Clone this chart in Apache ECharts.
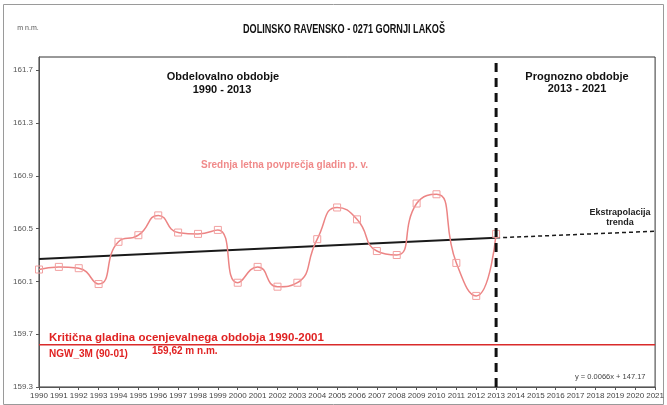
<!DOCTYPE html>
<html><head><meta charset="utf-8">
<script src="https://cdn.jsdelivr.net/npm/echarts@6/dist/echarts.min.js"></script>
<style>html,body{margin:0;padding:0;background:#fff}#c{width:667px;height:405px}</style>
</head><body><div id="c"></div>
<script>
// ---- data ----
const years = [1990,1991,1992,1993,1994,1995,1996,1997,1998,1999,2000,2001,2002,2003,2004,2005,2006,2007,2008,2009,2010,2011,2012,2013];
const levels = [160.19,160.21,160.20,160.08,160.40,160.45,160.60,160.47,160.46,160.49,160.09,160.21,160.06,160.09,160.42,160.66,160.57,160.33,160.30,160.69,160.76,160.24,159.99,160.46];
const trendYears = [1990, 2013];
const trendValues = [160.27, 160.43];
const extrapYears = [2013, 2021];
const extrapValues = [160.43, 160.48];
const criticalLevel = 159.62;
const dividerYear = 2013;
const xMin = 1990, xMax = 2021, xStep = 1;
const yMin = 159.3, yMax = 161.8, yStep = 0.4;

const zip = (xs, ys) => xs.map((x, i) => [x, ys[i]]);
const FONT = '"Liberation Sans", Arial, sans-serif';

const chart = echarts.init(document.getElementById('c'), null, {renderer: 'canvas'});

function txt(text, x, y, opt) {
  return {
    type: 'text', x: x, y: y, scaleX: opt.scaleX || 1, z: 100,
    style: {
      text: text, x: 0, y: 0,
      fill: opt.color || '#111',
      fontSize: opt.size || 10,
      fontWeight: opt.weight || 'normal',
      fontFamily: FONT,
      align: opt.align || 'center',
      verticalAlign: 'middle'
    }
  };
}

const option = {
  animation: false,
  backgroundColor: '#fff',
  grid: {left: 39, right: 10, top: 57, bottom: 18, show: true, borderColor: '#333', borderWidth: 1, backgroundColor: 'transparent'},
  xAxis: {
    type: 'value', min: xMin, max: xMax, interval: xStep,
    axisLine: {show: true, onZero: false, lineStyle: {color: '#555', width: 1}},
    axisTick: {show: true, length: 3, lineStyle: {color: '#555'}},
    axisLabel: {fontSize: 8, color: '#444', margin: 5, fontFamily: FONT, formatter: v => String(v)},
    splitLine: {show: false}
  },
  yAxis: {
    type: 'value', min: yMin, max: yMax, interval: yStep,
    axisLine: {show: true, onZero: false, lineStyle: {color: '#555', width: 1}},
    axisTick: {show: true, length: 3, lineStyle: {color: '#555'}},
    axisLabel: {fontSize: 8, color: '#555', margin: 6, fontFamily: FONT, showMaxLabel: false,
      formatter: v => (Math.abs(v - yMax) < 1e-6 ? '' : v.toFixed(1))},
    splitLine: {show: false}
  },
  series: [
    {
      name: 'critical', type: 'line', symbol: 'none', silent: true,
      data: [[xMin, criticalLevel], [xMax, criticalLevel]],
      lineStyle: {color: '#d92b2b', width: 1.5}
    },
    {
      name: 'trend', type: 'line', symbol: 'none', silent: true,
      data: zip(trendYears, trendValues),
      lineStyle: {color: '#1a1a1a', width: 2}
    },
    {
      name: 'extrap', type: 'line', symbol: 'none', silent: true,
      data: zip(extrapYears, extrapValues),
      lineStyle: {color: '#1a1a1a', width: 1.5, type: [4, 3]}
    },
    {
      name: 'levels', type: 'line', smooth: 0.55, symbol: 'rect', symbolSize: 7, showAllSymbol: true,
      data: zip(years, levels),
      lineStyle: {color: '#ec8484', width: 1.5},
      itemStyle: {color: 'rgba(255,255,255,0)', borderColor: '#f2a0a0', borderWidth: 1},
      z: 5
    },
    {
      name: 'divider', type: 'line', symbol: 'none', silent: true,
      data: [[dividerYear, yMin], [dividerYear, yMax]],
      lineStyle: {color: '#111', width: 3, type: [9, 6]},
      z: 6
    }
  ],
  graphic: [
    {type: 'rect', shape: {x: 3.5, y: 4.5, width: 660, height: 400}, style: {stroke: '#9a9a9a', fill: 'none', lineWidth: 1}, z: 0, silent: true},
    txt('m n.m.', 28, 28, {size: 7, color: '#555'}),
    txt('DOLINSKO RAVENSKO - 0271 GORNJI LAKOŠ', 344, 30, {size: 12, weight: 'bold', scaleX: 0.76}),
    txt('Obdelovalno obdobje', 223, 77, {size: 11, weight: 'bold'}),
    txt('1990 - 2013', 222, 90, {size: 11, weight: 'bold'}),
    txt('Prognozno obdobje', 577, 77, {size: 11, weight: 'bold'}),
    txt('2013 - 2021', 577, 89, {size: 11, weight: 'bold'}),
    txt('Srednja letna povprečja gladin p. v.', 201, 165, {size: 10, weight: 'bold', align: 'left', color: '#f08a8a'}),
    txt('Ekstrapolacija', 620, 213, {size: 9, weight: 'bold', color: '#222'}),
    txt('trenda', 620, 223, {size: 9, weight: 'bold', color: '#222'}),
    txt('Kritična gladina ocenjevalnega obdobja 1990-2001', 49, 338, {size: 11.5, weight: 'bold', align: 'left', color: '#e02222'}),
    txt('NGW_3M (90-01)', 49, 354, {size: 10, weight: 'bold', align: 'left', color: '#e02222'}),
    txt('159,62 m n.m.', 152, 351, {size: 10, weight: 'bold', align: 'left', color: '#e02222'}),
    txt('y = 0.0066x + 147.17', 575, 377, {size: 7.5, align: 'left', color: '#444'})
  ]
};
chart.setOption(option);
</script>
</body></html>
